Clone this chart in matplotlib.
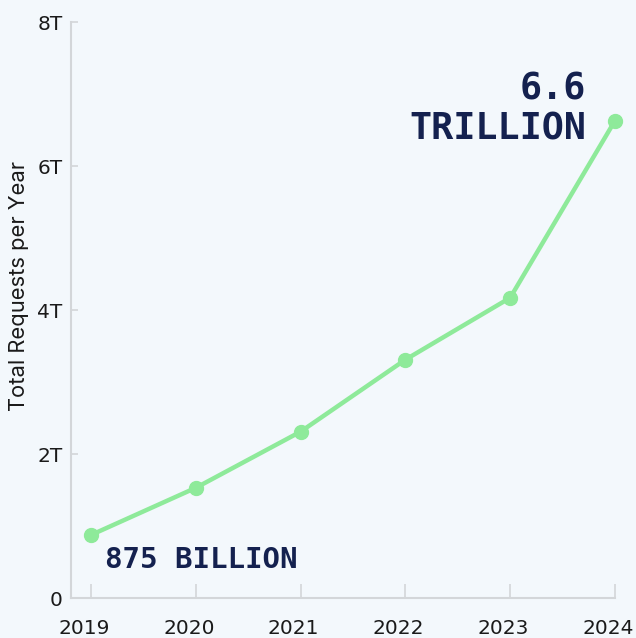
import matplotlib.pyplot as plt
import matplotlib.transforms as mtransforms

years = [2019, 2020, 2021, 2022, 2023, 2024]
requests_t = [0.875, 1.53, 2.31, 3.31, 4.17, 6.63]
ytick_vals = [0, 2, 4, 6, 8]
ytick_labels = ["0", "2T", "4T", "6T", "8T"]

bg = "#f3f8fc"
green = "#8eea9a"
navy = "#14214f"
spine_gray = "#d3d6d9"

plt.rcParams["font.family"] = ["Inter", "DejaVu Sans"]

fig = plt.figure(figsize=(6.36, 6.38), dpi=100, facecolor=bg)
ax = fig.add_axes([71 / 636, 40 / 638, 544 / 636, 576 / 638], facecolor=bg)

ax.plot(years, requests_t, color=green, lw=3.2, marker="o", ms=10,
        clip_on=False, zorder=3)

ax.set_xlim(2019 - 20 / 105, 2024)
ax.set_ylim(0, 8)
ax.set_xticks(years)
ax.set_yticks(ytick_vals)
ax.set_yticklabels(ytick_labels)

for side in ["top", "right"]:
    ax.spines[side].set_visible(False)
for side in ["left", "bottom"]:
    ax.spines[side].set_color(spine_gray)
    ax.spines[side].set_linewidth(1.5)

ax.tick_params(axis="x", direction="in", length=10, width=1.2, color=spine_gray,
               labelsize=14.5, labelcolor="#1a1a1a", pad=15)
ax.tick_params(axis="y", direction="in", length=5, width=1.2, color=spine_gray,
               labelsize=14.5, labelcolor="#1a1a1a", pad=6)
for lbl in ax.get_xticklabels() + ax.get_yticklabels():
    lbl.set_fontfamily("DejaVu Sans")

# x labels sit a little left of their ticks in the original
shift = mtransforms.ScaledTranslation(-7 / 100, 0, fig.dpi_scale_trans)
for lbl in ax.get_xticklabels():
    lbl.set_transform(lbl.get_transform() + shift)

ax.set_ylabel("Total Requests per Year", fontsize=15.8, color="#1a1a1a")
ax.yaxis.set_label_coords(-0.077, 0.541)

mono = dict(family="DejaVu Sans Mono", weight="bold", color=navy)
fig.text(105 / 636, 1 - 568 / 638, "875 BILLION", fontsize=21, ha="left",
         va="baseline", **mono)
fig.text(586 / 636, 1 - 100 / 638, "6.6", fontsize=26.5, ha="right",
         va="baseline", **mono)
fig.text(586 / 636, 1 - 140 / 638, "TRILLION", fontsize=26.5, ha="right",
         va="baseline", **mono)

fig.savefig("out.png", dpi=100, facecolor=bg)
